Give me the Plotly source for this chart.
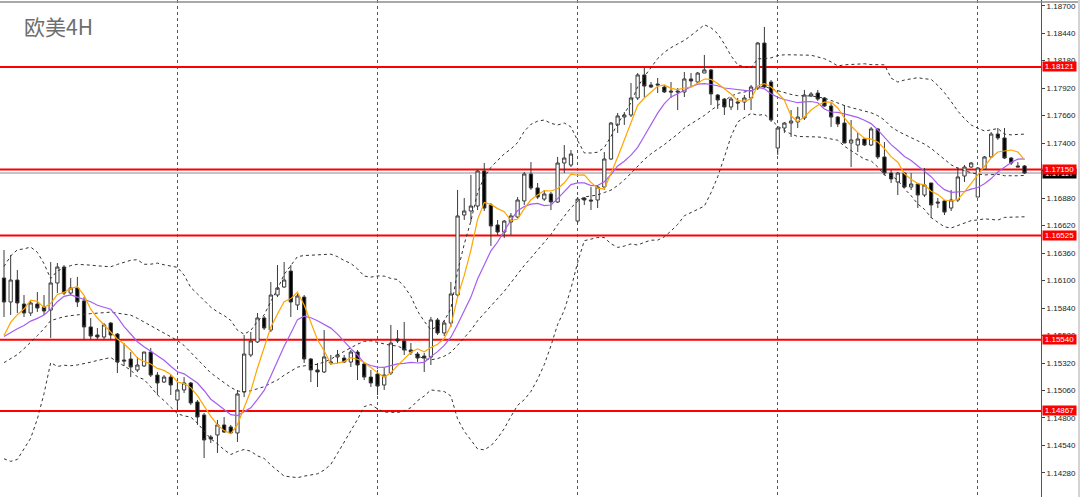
import plotly.graph_objects as go
import pandas as pd

# EURUSD 4H, 154 bars (oldest first)
title = "欧美4H"

open_ = [
    1.16124, 1.15897, 1.16105, 1.15878, 1.15793, 1.15878, 1.15850, 1.15821, 1.16077, 1.16228,
    1.15982, 1.16030, 1.15907, 1.15661, 1.15585, 1.15566, 1.15698, 1.15594, 1.15348, 1.15358,
    1.15254, 1.15292, 1.15424, 1.15206, 1.15140, 1.15187, 1.14970, 1.15065, 1.15131, 1.14951,
    1.14828, 1.14620, 1.14639, 1.14734, 1.14715, 1.14658, 1.15046, 1.15396, 1.15519, 1.15746,
    1.15632, 1.15963, 1.16039, 1.16190, 1.15869, 1.15944, 1.15358, 1.15254, 1.15235, 1.15320,
    1.15377, 1.15367, 1.15329, 1.15424, 1.15311, 1.15187, 1.15216, 1.15112, 1.15225, 1.15547,
    1.15528, 1.15443, 1.15405, 1.15386, 1.15377, 1.15727, 1.15604, 1.15698, 1.15963, 1.16720,
    1.16758, 1.16805, 1.17136, 1.16815, 1.16626, 1.16559, 1.16654, 1.16701, 1.16853, 1.17108,
    1.16976, 1.16871, 1.16919, 1.16843, 1.17212, 1.17193, 1.16663, 1.16881, 1.16862, 1.16862,
    1.16985, 1.17250, 1.17572, 1.17647, 1.17666, 1.17827, 1.18045, 1.17950, 1.17959, 1.17931,
    1.17893, 1.17893, 1.17884, 1.18007, 1.17978, 1.18063, 1.18092, 1.17855, 1.17817, 1.17742,
    1.17789, 1.17789, 1.17827, 1.17921, 1.18347, 1.17978, 1.17354, 1.17543, 1.17590, 1.17600,
    1.17638, 1.17846, 1.17874, 1.17827, 1.17751, 1.17647, 1.17590, 1.17401, 1.17382, 1.17439,
    1.17382, 1.17534, 1.17269, 1.17117, 1.17032, 1.17117, 1.16985, 1.17013, 1.16909, 1.17023,
    1.16843, 1.16853, 1.16786, 1.16862, 1.17089, 1.17174, 1.16890, 1.17155, 1.17269, 1.17486,
    1.17449, 1.17259, 1.17184, 1.17184,
]
high = [
    1.16389, 1.16342, 1.16200, 1.15963, 1.15916, 1.15992, 1.15963, 1.16275, 1.16266, 1.16247,
    1.16124, 1.16134, 1.15944, 1.15746, 1.15651, 1.15698, 1.15708, 1.15604, 1.15509, 1.15424,
    1.15377, 1.15424, 1.15462, 1.15235, 1.15206, 1.15206, 1.15140, 1.15187, 1.15140, 1.14970,
    1.14847, 1.14639, 1.14781, 1.14809, 1.14734, 1.15065, 1.15585, 1.15613, 1.15793, 1.15765,
    1.16086, 1.16247, 1.16275, 1.16247, 1.15982, 1.15963, 1.15367, 1.15320, 1.15632, 1.15396,
    1.15443, 1.15396, 1.15443, 1.15443, 1.15329, 1.15254, 1.15254, 1.15273, 1.15680, 1.15632,
    1.15708, 1.15509, 1.15424, 1.15415, 1.15755, 1.15746, 1.15727, 1.16086, 1.16957, 1.16881,
    1.17099, 1.17146, 1.17212, 1.16834, 1.16673, 1.16673, 1.16739, 1.16890, 1.17127, 1.17221,
    1.17023, 1.16957, 1.16938, 1.17269, 1.17382, 1.17335, 1.16890, 1.16890, 1.16985, 1.17004,
    1.17316, 1.17600, 1.17685, 1.17694, 1.17969, 1.18063, 1.18111, 1.17978, 1.18016, 1.17950,
    1.17978, 1.17921, 1.18073, 1.18063, 1.18073, 1.18234, 1.18101, 1.17865, 1.17827, 1.17836,
    1.17827, 1.17855, 1.17950, 1.18357, 1.18499, 1.17997, 1.17553, 1.17600, 1.17713, 1.17742,
    1.17903, 1.17884, 1.17903, 1.17836, 1.17780, 1.17657, 1.17761, 1.17619, 1.17496, 1.17449,
    1.17553, 1.17543, 1.17411, 1.17146, 1.17127, 1.17127, 1.17117, 1.17023, 1.17165, 1.17023,
    1.16881, 1.16862, 1.16957, 1.17174, 1.17193, 1.17221, 1.17174, 1.17278, 1.17505, 1.17543,
    1.17543, 1.17269, 1.17221, 1.17193,
]
low = [
    1.15755, 1.15774, 1.15793, 1.15755, 1.15765, 1.15803, 1.15774, 1.15557, 1.15982, 1.15963,
    1.15963, 1.15850, 1.15538, 1.15538, 1.15538, 1.15538, 1.15538, 1.15225, 1.15292, 1.15187,
    1.15235, 1.15282, 1.15187, 1.15017, 1.15131, 1.15017, 1.14875, 1.15036, 1.14923, 1.14734,
    1.14421, 1.14563, 1.14469, 1.14658, 1.14648, 1.14573, 1.14998, 1.15377, 1.15509, 1.15632,
    1.15613, 1.15944, 1.16030, 1.15755, 1.15821, 1.15320, 1.15140, 1.15093, 1.15225, 1.15301,
    1.15320, 1.15320, 1.15282, 1.15159, 1.15159, 1.15093, 1.15017, 1.15065, 1.15206, 1.15509,
    1.15396, 1.15396, 1.15329, 1.15235, 1.15301, 1.15585, 1.15575, 1.15661, 1.15944, 1.16673,
    1.16654, 1.16767, 1.16758, 1.16427, 1.16531, 1.16503, 1.16531, 1.16692, 1.16815, 1.16957,
    1.16871, 1.16853, 1.16767, 1.16834, 1.17117, 1.17174, 1.16645, 1.16815, 1.16767, 1.16786,
    1.16957, 1.17240, 1.17496, 1.17572, 1.17647, 1.17808, 1.17836, 1.17921, 1.17874, 1.17874,
    1.17827, 1.17713, 1.17836, 1.17931, 1.17969, 1.18063, 1.17761, 1.17723, 1.17666, 1.17713,
    1.17713, 1.17713, 1.17713, 1.17903, 1.17921, 1.17600, 1.17288, 1.17496, 1.17458, 1.17543,
    1.17619, 1.17836, 1.17799, 1.17742, 1.17553, 1.17553, 1.17401, 1.17174, 1.17316, 1.17373,
    1.17373, 1.17250, 1.17099, 1.17023, 1.16909, 1.16976, 1.16957, 1.16786, 1.16890, 1.16692,
    1.16786, 1.16720, 1.16758, 1.16843, 1.17032, 1.17165, 1.16890, 1.17146, 1.17259, 1.17430,
    1.17250, 1.17193, 1.17174, 1.17108,
]
close = [
    1.15897, 1.16105, 1.15888, 1.15793, 1.15888, 1.15840, 1.15812, 1.16077, 1.16228, 1.15982,
    1.16030, 1.15897, 1.15661, 1.15575, 1.15566, 1.15680, 1.15585, 1.15329, 1.15339, 1.15282,
    1.15301, 1.15424, 1.15206, 1.15131, 1.15187, 1.15112, 1.15065, 1.15131, 1.14942, 1.14809,
    1.14592, 1.14601, 1.14734, 1.14667, 1.14658, 1.15027, 1.15405, 1.15528, 1.15746, 1.15651,
    1.15963, 1.16030, 1.16105, 1.15897, 1.15954, 1.15358, 1.15254, 1.15235, 1.15377, 1.15329,
    1.15396, 1.15329, 1.15424, 1.15301, 1.15187, 1.15131, 1.15102, 1.15206, 1.15509, 1.15528,
    1.15443, 1.15424, 1.15367, 1.15367, 1.15727, 1.15604, 1.15698, 1.15973, 1.16711, 1.16758,
    1.16805, 1.17136, 1.16786, 1.16616, 1.16559, 1.16663, 1.16711, 1.16862, 1.17108, 1.16976,
    1.16890, 1.16919, 1.16843, 1.17212, 1.17259, 1.17297, 1.16871, 1.16862, 1.16853, 1.16985,
    1.17250, 1.17590, 1.17657, 1.17666, 1.17827, 1.18045, 1.17940, 1.17931, 1.17950, 1.17884,
    1.17884, 1.17884, 1.18007, 1.17988, 1.18063, 1.18092, 1.17865, 1.17808, 1.17742, 1.17817,
    1.17780, 1.17827, 1.17931, 1.18347, 1.17931, 1.17619, 1.17543, 1.17590, 1.17609, 1.17647,
    1.17855, 1.17865, 1.17817, 1.17751, 1.17647, 1.17581, 1.17401, 1.17430, 1.17439, 1.17382,
    1.17534, 1.17269, 1.17117, 1.17061, 1.17117, 1.16985, 1.17013, 1.16909, 1.17004, 1.16815,
    1.16834, 1.16748, 1.16862, 1.17080, 1.17174, 1.17212, 1.17165, 1.17269, 1.17486, 1.17449,
    1.17259, 1.17212, 1.17174, 1.17117,
]

# closes of the 19 bars before the visible window (read back from the bands), needed for BB(20)/MA(10)
hist_close = [1.15348, 1.15131, 1.14658, 1.14753, 1.14516, 1.14488, 1.14563, 1.15850, 1.15604, 1.15840,
              1.15708, 1.15566, 1.15481, 1.15471, 1.15585, 1.15490, 1.15519, 1.15528, 1.15471]

# horizontal support / resistance levels (red)
levels = [1.18121, 1.17150, 1.16525, 1.15540, 1.14867]

price_ticks = [1.18700, 1.18440, 1.18180, 1.17920, 1.17660, 1.17400, 1.17140, 1.16880, 1.16620,
               1.16360, 1.16100, 1.15840, 1.15580, 1.15320, 1.15060, 1.14800, 1.14540, 1.14280]

# bars where the vertical dotted separators sit
sep_bars = [26, 56, 86, 116, 146]

W, H = 1080, 497
plot_right = 1041 / W

n = len(close)
bars = list(range(n))
k = len(hist_close)

# indicators, same as on the terminal: SMA5, SMA10, Bollinger(20, 2)
allc = pd.Series(hist_close + close)
ma5 = allc.rolling(5).mean().iloc[k:].tolist()
ma10 = allc.rolling(10).mean().iloc[k:].tolist()
mid = allc.rolling(20).mean()
sd = allc.rolling(20).std(ddof=0)
bb_up = (mid + 2 * sd).iloc[k:].tolist()
bb_mid = mid.iloc[k:].tolist()
bb_lo = (mid - 2 * sd).iloc[k:].tolist()

fig = go.Figure()

fig.add_trace(go.Candlestick(
    x=bars, open=open_, high=high, low=low, close=close,
    increasing=dict(line=dict(color="#3a3a3a", width=1), fillcolor="white"),
    decreasing=dict(line=dict(color="#3a3a3a", width=1), fillcolor="black"),
    whiskerwidth=0, showlegend=False,
))

for band in [bb_up, bb_mid, bb_lo]:
    fig.add_trace(go.Scatter(x=bars, y=band, mode="lines", showlegend=False,
                             line=dict(color="#333333", width=1, dash="3px,3px")))

fig.add_trace(go.Scatter(x=bars, y=ma10, mode="lines", showlegend=False,
                         line=dict(color="#a55ef0", width=1.2)))
fig.add_trace(go.Scatter(x=bars, y=ma5, mode="lines", showlegend=False,
                         line=dict(color="#ffa500", width=1.2)))

bid = close[-1]
shapes = []
# bid line
shapes.append(dict(type="line", xref="paper", yref="y", x0=0, x1=plot_right, y0=bid, y1=bid,
                   layer="below", line=dict(color="#c4c4cc", width=2)))
for lv in levels:
    shapes.append(dict(type="line", xref="paper", yref="y", x0=0, x1=plot_right, y0=lv, y1=lv,
                       layer="below", line=dict(color="#ff0000", width=2)))
# window frame
shapes.append(dict(type="line", xref="paper", yref="paper", x0=0, x1=1, y0=1 - 2 / H, y1=1 - 2 / H,
                   line=dict(color="#8c8c8c", width=1.5)))
shapes.append(dict(type="rect", xref="paper", yref="paper", x0=1078 / W, x1=1, y0=0, y1=1,
                   line=dict(width=0), fillcolor="#d4d4d4"))

annotations = [dict(text=title, xref="paper", yref="paper", x=22 / W, y=1 - 26 / H,
                    xanchor="left", yanchor="middle", showarrow=False,
                    font=dict(family="Noto Sans CJK SC", size=21, color="#6e6e6e"))]

label_font = dict(family="Liberation Sans", size=8, color="white")
annotations.append(dict(text=f"{bid:.5f}", xref="paper", yref="y", x=1042 / W, y=bid,
                        xanchor="left", yanchor="middle", showarrow=False, bgcolor="black",
                        width=33, height=9, borderpad=0, font=label_font))
for lv in levels:
    annotations.append(dict(text=f"{lv:.5f}", xref="paper", yref="y", x=1042 / W, y=lv,
                            xanchor="left", yanchor="middle", showarrow=False, bgcolor="#ff0000",
                            width=33, height=9, borderpad=0, font=label_font))

y_top = 1.18754
y_bot = y_top - H * 0.0000946

fig.update_layout(
    width=W, height=H,
    margin=dict(l=0, r=0, t=0, b=0),
    paper_bgcolor="white", plot_bgcolor="white",
    shapes=shapes, annotations=annotations,
    xaxis=dict(domain=[0, plot_right], range=[-0.6, 155.47], rangeslider=dict(visible=False),
               tickvals=sep_bars, showticklabels=False, ticks="", showgrid=True,
               gridcolor="#555555", griddash="dot", gridwidth=1, zeroline=False, showline=False),
    yaxis=dict(side="right", range=[y_bot, y_top], tickvals=price_ticks, tickformat=".5f",
               ticks="outside", ticklen=3, tickcolor="#444444", showgrid=False, zeroline=False,
               showline=True, linecolor="#555555", linewidth=1, automargin=False,
               tickfont=dict(family="Liberation Sans", size=8, color="#222222")),
)

# the page body has a default 8px margin; drop it so the figure sits at the window corner
fig.write_html("out.html", config={"displayModeBar": False},
               post_script="document.body.style.margin='0px';")
